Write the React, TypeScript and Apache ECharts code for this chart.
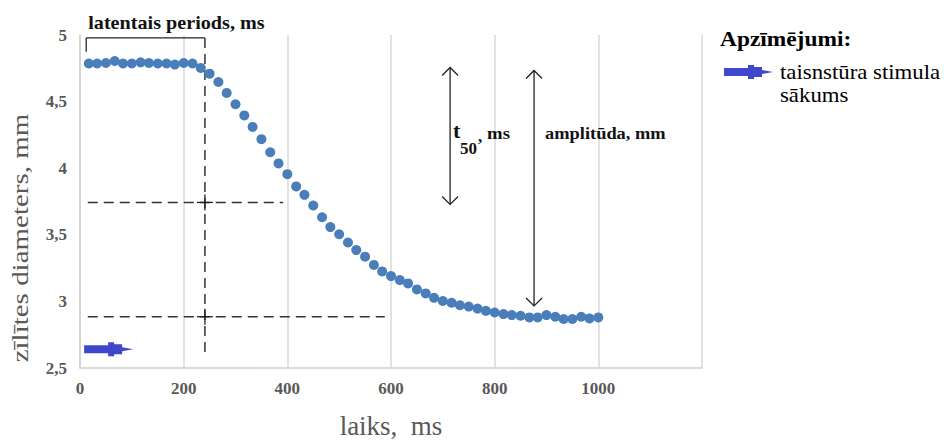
import React, { useEffect, useRef } from "react";
import * as echarts from "echarts";

// time (ms) of each pupil-diameter sample
const timeMs = [17, 33, 50, 67, 83, 100, 117, 133, 150, 167, 183, 200, 217, 233, 250, 267, 283, 300, 317, 333,
  350, 367, 383, 400, 417, 433, 450, 467, 483, 500, 517, 533, 550, 567, 583, 600, 617, 633, 650, 667,
  683, 700, 717, 733, 750, 767, 783, 800, 817, 833, 850, 867, 883, 900, 917, 933, 950, 967, 983, 1000];
// pupil diameter (mm)
const diameterMm = [4.786, 4.786, 4.79, 4.805, 4.786, 4.786, 4.795, 4.79, 4.786, 4.786, 4.778, 4.79, 4.786, 4.753, 4.71, 4.647, 4.565, 4.48, 4.396, 4.31,
  4.218, 4.12, 4.036, 3.955, 3.863, 3.8, 3.72, 3.632, 3.558, 3.504, 3.442, 3.385, 3.336, 3.274, 3.225, 3.19, 3.16, 3.135, 3.09, 3.06,
  3.027, 3.003, 2.99, 2.971, 2.961, 2.946, 2.929, 2.917, 2.905, 2.897, 2.892, 2.88, 2.88, 2.897, 2.885, 2.868, 2.868, 2.885, 2.872, 2.88];

const xTicks = [0, 200, 400, 600, 800, 1000];
const yTicks = [2.5, 3, 3.5, 4, 4.5, 5];

// annotation anchors in data units
const latencyStartMs = 12;
const latencyEndMs = 241;
const bracketTopMm = 4.978;
const bracketTickMm = 4.874;
const latencyLineBottomMm = 2.62;
const halfLevelMm = 3.743;
const halfLevelEndMs = 392;
const finalLevelMm = 2.885;
const finalLevelEndMs = 588;
const dashStartMs = 15;
const t50Arrow = { t: 714, top: 4.756, bottom: 3.728 };
const ampArrow = { t: 876, top: 4.734, bottom: 2.966 };
const stimulus = { t: 8, mm: 2.64 };

const SERIF = '"Liberation Serif", "Times New Roman", serif';
const GRAY = "#595959";

function arrowPoly(x0: number, y0: number): number[][] {
  const p = [[0, -4], [24, -4], [24, -7], [30, -7], [30, -5], [38, -5], [38, -2], [49, 0], [38, 2], [38, 5], [30, 5], [30, 7], [24, 7], [24, 4], [0, 4]];
  return p.map(([a, b]) => [x0 + a, y0 + b]);
}

export default function App() {
  const ref = useRef<HTMLDivElement>(null);
  useEffect(() => {
    if (!ref.current) return;
    const chart = echarts.init(ref.current, null, { renderer: "svg" });
    chart.setOption({
      animation: false,
      backgroundColor: "#ffffff",
      grid: { left: 80, top: 35, width: 622, height: 338 },
      xAxis: {
        type: "value",
        min: 0,
        max: 1200,
        interval: 200,
        axisLine: { show: true, lineStyle: { color: "#d0d0d0", width: 1.5 } },
        axisTick: { show: false },
        splitLine: { show: true, lineStyle: { color: "#d9d9d9", width: 1.5 } },
        axisLabel: {
          formatter: (v: number) => (xTicks.includes(v) ? String(v) : ""),
          fontFamily: SERIF,
          fontWeight: "bold",
          fontSize: 17,
          color: GRAY,
          margin: 12,
        },
        name: "laiks,  ms",
        nameLocation: "middle",
        nameGap: 44,
        nameTextStyle: { fontFamily: SERIF, fontSize: 27, color: GRAY },
      },
      yAxis: {
        type: "value",
        min: 2.5,
        max: 5,
        interval: 0.5,
        axisLine: { show: true, lineStyle: { color: "#d0d0d0", width: 1.5 } },
        axisTick: { show: false },
        splitLine: { show: false },
        axisLabel: {
          formatter: (v: number) => (yTicks.includes(v) ? String(v).replace(".", ",") : ""),
          fontFamily: SERIF,
          fontWeight: "bold",
          fontSize: 17,
          color: GRAY,
          margin: 13,
        },
      },
      series: [
        {
          type: "scatter",
          data: timeMs.map((t, i) => [t, diameterMm[i]]),
          symbolSize: 10,
          itemStyle: { color: "#4a7ebb", opacity: 1 },
        },
      ],
    });

    const px = (t: number, v: number) => chart.convertToPixel({ gridIndex: 0 }, [t, v]) as number[];
    const dash = { stroke: "#333333", lineWidth: 1.5, lineDash: [10, 6] };
    const solid = { stroke: "#222222", lineWidth: 1.3 };
    const els: any[] = [];
    const line = (a: number[], b: number[], style: any) =>
      els.push({ type: "line", shape: { x1: a[0], y1: a[1], x2: b[0], y2: b[1] }, style, silent: true });

    // latency bracket
    const bl = px(latencyStartMs, bracketTopMm);
    const br = px(latencyEndMs, bracketTopMm);
    const blb = px(latencyStartMs, bracketTickMm);
    line(bl, br, solid);
    line(bl, blb, solid);
    const lvb = px(latencyEndMs, latencyLineBottomMm);
    line(br, lvb, dash);
    // horizontal dashed levels
    line(px(dashStartMs, halfLevelMm), px(halfLevelEndMs, halfLevelMm), dash);
    line(px(dashStartMs, finalLevelMm), px(finalLevelEndMs, finalLevelMm), dash);
    // crosses at intersections
    [px(latencyEndMs, halfLevelMm), px(latencyEndMs, finalLevelMm)].forEach((c) => {
      line([c[0] - 8, c[1]], [c[0] + 8, c[1]], solid);
      line([c[0], c[1] - 8], [c[0], c[1] + 8], solid);
    });
    // double arrows
    const dbl = (a: { t: number; top: number; bottom: number }) => {
      const top = px(a.t, a.top);
      const bot = px(a.t, a.bottom);
      line(top, bot, solid);
      els.push({ type: "polyline", shape: { points: [[top[0] - 8, top[1] + 8], top, [top[0] + 8, top[1] + 8]] }, style: { ...solid, fill: null }, silent: true });
      els.push({ type: "polyline", shape: { points: [[bot[0] - 8, bot[1] - 8], bot, [bot[0] + 8, bot[1] - 8]] }, style: { ...solid, fill: null }, silent: true });
      return [top, bot];
    };
    const [t50Top] = dbl(t50Arrow);
    const [ampTop] = dbl(ampArrow);

    const txt = (text: string, x: number, y: number, font: string, fill = "#111111", extra: any = {}) =>
      els.push({ type: "text", x, y, style: { text, font, fill, align: "left", verticalAlign: "middle" }, silent: true, ...extra });

    txt("latentais periods, ms", bl[0] + 2, bl[1] - 15, `bold 18px ${SERIF}`, "#111111", { scaleX: 1.12 });
    const ty = t50Top[1] + 65;
    txt("t", t50Top[0] + 3, ty - 2, `bold 22px ${SERIF}`);
    txt("50", t50Top[0] + 10, ty + 16, `bold 17px ${SERIF}`);
    txt(",", t50Top[0] + 28, ty + 4, `bold 17px ${SERIF}`);
    txt("ms", t50Top[0] + 37, ty + 1, `bold 17px ${SERIF}`, "#111111", { scaleX: 1.1 });
    txt("amplitūda, mm", ampTop[0] + 11, ampTop[1] + 63, `bold 16px ${SERIF}`, "#111111", { scaleX: 1.15 });

    // stimulus onset arrow
    const s = px(stimulus.t, stimulus.mm);
    els.push({ type: "polygon", shape: { points: arrowPoly(s[0], s[1]) }, style: { fill: "#3f48cc" }, silent: true });

    // y axis title
    els.push({
      type: "text",
      x: 21,
      y: 238,
      rotation: Math.PI / 2,
      scaleX: 1.26,
      style: { text: "zīlītes diameters, mm", font: `23px ${SERIF}`, fill: GRAY, align: "center", verticalAlign: "middle" },
      silent: true,
    });

    // legend
    txt("Apzīmējumi:", 720, 40, `bold 20px ${SERIF}`, "#000000", { scaleX: 1.17 });
    els.push({ type: "polygon", shape: { points: arrowPoly(724, 72) }, style: { fill: "#3f48cc" }, silent: true });
    txt("taisnstūra stimula", 780, 72, `20px ${SERIF}`, "#000000", { scaleX: 1.14 });
    txt("sākums", 780, 95, `20px ${SERIF}`, "#000000", { scaleX: 1.14 });

    chart.setOption({ graphic: { elements: els } });
    return () => chart.dispose();
  }, []);
  return <div ref={ref} style={{ position: "fixed", left: 0, top: 0, width: 944, height: 444 }} />;
}
